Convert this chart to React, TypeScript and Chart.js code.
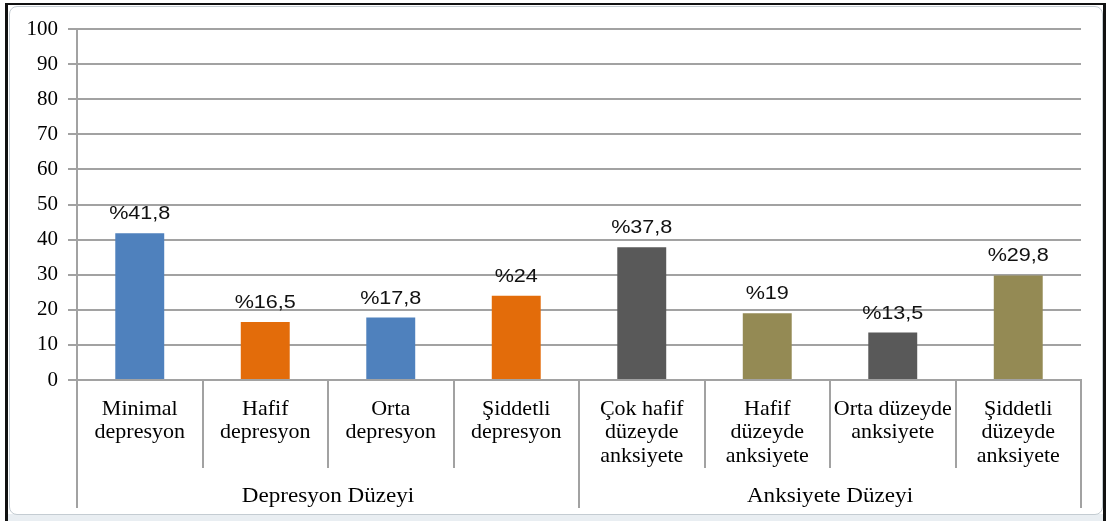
import React, { useEffect, useRef } from "react";
import { Chart, registerables } from "chart.js";

Chart.register(...registerables);

const categories: string[][] = [
  ["Minimal", "depresyon"],
  ["Hafif", "depresyon"],
  ["Orta", "depresyon"],
  ["Şiddetli", "depresyon"],
  ["Çok hafif", "düzeyde", "anksiyete"],
  ["Hafif", "düzeyde", "anksiyete"],
  ["Orta düzeyde", "anksiyete"],
  ["Şiddetli", "düzeyde", "anksiyete"],
];
const values: number[] = [41.8, 16.5, 17.8, 24, 37.8, 19, 13.5, 29.8];
const barColors: string[] = [
  "#4F81BD",
  "#E36C0A",
  "#4F81BD",
  "#E36C0A",
  "#595959",
  "#948A54",
  "#595959",
  "#948A54",
];
const groupLabels: string[] = ["Depresyon Düzeyi", "Anksiyete Düzeyi"];
const groupSizes: number[] = [4, 4];
const yMin = 0;
const yMax = 100;
const yStep = 10;

const LINE = "#a2a2a2";

const fmt = (v: number) => "%" + String(v).replace(".", ",");

const overlayPlugin = {
  id: "overlay",
  afterDatasetsDraw(chart: any) {
    const ctx = chart.ctx;
    const meta = chart.getDatasetMeta(0);
    ctx.save();
    ctx.fillStyle = "#111";
    ctx.font = "18px 'Liberation Sans', Arial, sans-serif";
    ctx.textAlign = "center";
    ctx.textBaseline = "alphabetic";
    meta.data.forEach((el: any, i: number) => {
      ctx.save();
      ctx.translate(el.x, el.y - 14);
      ctx.scale(1.2, 1);
      ctx.fillText(fmt(values[i]), 0, 0);
      ctx.restore();
    });
    ctx.restore();
  },
  afterDraw(chart: any) {
    const ctx = chart.ctx;
    const xs = chart.scales.x;
    const area = chart.chartArea;
    const n = categories.length;
    const boundary = (k: number) => {
      if (k <= 0) return area.left;
      if (k >= n) return area.right;
      return (xs.getPixelForValue(k - 1) + xs.getPixelForValue(k)) / 2;
    };
    const groupEdges: number[] = [0];
    groupSizes.forEach((s) => groupEdges.push(groupEdges[groupEdges.length - 1] + s));
    ctx.save();
    ctx.strokeStyle = LINE;
    ctx.lineWidth = 2;
    for (let k = 0; k <= n; k++) {
      const isGroup = groupEdges.includes(k);
      const x = Math.round(boundary(k));
      ctx.beginPath();
      ctx.moveTo(x, area.bottom);
      ctx.lineTo(x, area.bottom + (isGroup ? 128 : 88));
      ctx.stroke();
    }
    ctx.fillStyle = "#000";
    ctx.font = "21px 'Liberation Serif', 'Times New Roman', serif";
    ctx.textAlign = "center";
    ctx.textBaseline = "alphabetic";
    groupLabels.forEach((g, gi) => {
      const cx = (boundary(groupEdges[gi]) + boundary(groupEdges[gi + 1])) / 2;
      ctx.save();
      ctx.translate(cx, area.bottom + 122);
      ctx.scale(1.1, 1);
      ctx.fillText(g, 0, 0);
      ctx.restore();
    });
    ctx.restore();
  },
};

export default function App() {
  const ref = useRef<HTMLCanvasElement | null>(null);

  useEffect(() => {
    if (!ref.current) return;
    Chart.defaults.font.family = "'Liberation Serif', 'Times New Roman', serif";
    Chart.defaults.color = "#000";
    const chart = new Chart(ref.current, {
      type: "bar",
      data: {
        labels: categories,
        datasets: [
          {
            data: values,
            backgroundColor: barColors,
            borderWidth: 0,
            barPercentage: 0.39,
            categoryPercentage: 1,
          },
        ],
      },
      options: {
        responsive: false,
        animation: false,
        devicePixelRatio: 1,
        layout: { padding: { top: 29, right: 26, bottom: 0, left: 0 } },
        plugins: {
          legend: { display: false },
          tooltip: { enabled: false },
        },
        scales: {
          x: {
            afterFit: (s: any) => {
              s.height = 141;
            },
            grid: { display: false },
            border: { display: true, color: LINE, width: 2 },
            ticks: {
              autoSkip: false,
              maxRotation: 0,
              minRotation: 0,
              padding: 9,
              font: { size: 22, lineHeight: "23.5px" as any },
              color: "#000",
            },
          },
          y: {
            min: yMin,
            max: yMax,
            afterFit: (s: any) => {
              s.width = 77;
            },
            grid: {
              color: LINE,
              lineWidth: 2,
              tickLength: 9,
              drawTicks: true,
            },
            border: { display: true, color: LINE, width: 2 },
            ticks: {
              stepSize: yStep,
              padding: 10,
              font: { size: 21 },
              color: "#000",
            },
          },
        },
      },
      plugins: [overlayPlugin],
    });
    return () => chart.destroy();
  }, []);

  return (
    <div
      style={{
        position: "fixed",
        left: 0,
        top: 0,
        width: 1107,
        height: 521,
        background: "#fff",
        overflow: "hidden",
      }}
    >
      <div style={{ position: "absolute", left: 5, top: 3, width: 1101, height: 2, background: "#111" }} />
      <div style={{ position: "absolute", left: 5, top: 3, width: 3, height: 518, background: "#111" }} />
      <div style={{ position: "absolute", left: 1103, top: 3, width: 3, height: 518, background: "#111" }} />
      <div style={{ position: "absolute", left: 8, top: 514, width: 1095, height: 7, background: "#e9eef2" }} />
      <div
        style={{
          position: "absolute",
          left: 9,
          top: 6,
          width: 1092,
          height: 507,
          border: "1px solid #c4ccd2",
          borderRadius: 8,
          background: "#fff",
        }}
      />
      <canvas
        ref={ref}
        width={1107}
        height={521}
        style={{ position: "absolute", left: 0, top: 0, width: 1107, height: 521 }}
      />
    </div>
  );
}
